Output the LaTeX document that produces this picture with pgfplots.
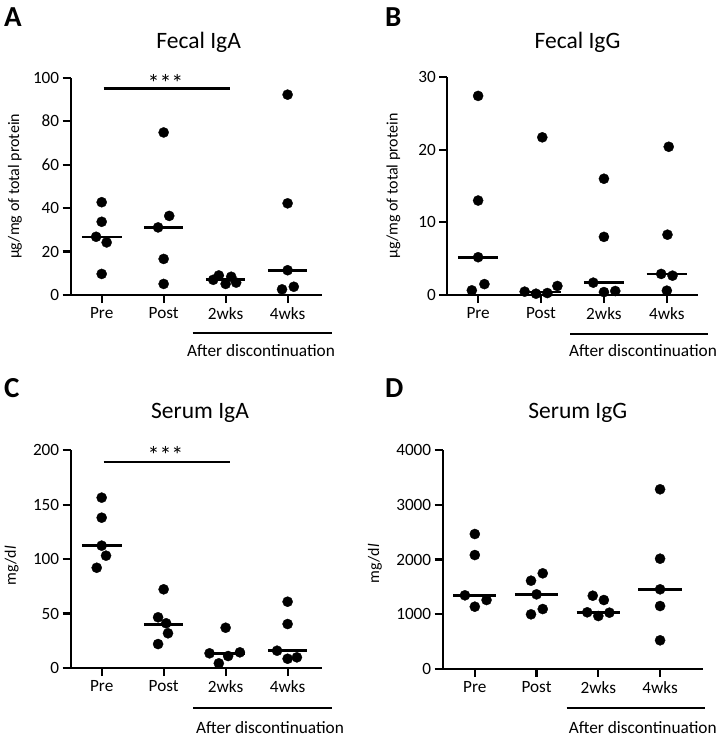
\documentclass[border=0pt]{standalone}
\usepackage{fontspec}
\setmainfont{Carlito}
\usepackage{pgfplots}
\pgfplotsset{compat=1.18}
\pgfplotsset{
 panel/.style={
  scale only axis,
  axis x line=bottom, axis y line=left,
  axis line style={-, line width=2.2pt},
  every tick/.style={black, line width=2.2pt},
  tick align=outside,
  major tick length=8pt,
  xtick={0,1,2,3},
  xticklabels={Pre,Post,2wks,4wks},
  x tick label style={font=\fontsize{17.2}{19}\selectfont, yshift=-1pt},
  y tick label style={font=\fontsize{17.2}{19}\selectfont},
  /pgf/number format/assume math mode=true,
  /pgf/number format/1000 sep={},
  every axis y label/.style={rotate=90, anchor=center, font=\fontsize{16}{18}\selectfont},
  clip=false,
  ymin=0,
 },
 dots/.style={only marks, mark=*, mark size=5.1pt, black, mark options={line width=0.3pt}},
 med/.style={black, line width=2.6pt, no marks},
}
\begin{document}
\begin{tikzpicture}
\path[use as bounding box] (0,0) rectangle (720pt,-739pt);
\tikzset{lbl/.style={font=\fontsize{29}{32}\selectfont\bfseries, anchor=base west, inner sep=0pt},
 ttl/.style={font=\fontsize{23.5}{26}\selectfont, anchor=center},
 adt/.style={font=\fontsize{17.3}{19}\selectfont, anchor=base, inner sep=0pt},
 stars/.style={font=\fontsize{24}{26}\selectfont, anchor=center}}

% ---------- A ----------
\begin{axis}[panel, at={(70.7pt,-295pt)}, anchor=south west,
  width=251pt, height=217.3pt, xmin=-0.5, xmax=3.55, ymax=100,
  ytick={0,20,40,60,80,100},
  ylabel={µg/mg of total protein},
  y label style={at={(axis description cs:-0.222,0.5)}}]
\addplot[dots] coordinates {(0,42.7) (0,33.7) (-0.09,26.8) (0.08,24.2) (0,9.7)
 (1,74.8) (1.09,36.4) (0.91,31.1) (1,16.6) (1,5.1)
 (1.89,9.0) (2.09,8.4) (1.8,7.0) (2,5.1) (2.17,5.7)
 (3,92.2) (3,42.2) (3,11.4) (2.91,2.6) (3.1,3.8)};
\addplot[med] coordinates {(-0.32,26.7) (0.32,26.7)};
\addplot[med] coordinates {(0.68,31.1) (1.32,31.1)};
\addplot[med] coordinates {(1.68,7.2) (2.32,7.2)};
\addplot[med] coordinates {(2.68,11.2) (3.32,11.2)};
\addplot[black, line width=2.2pt, no marks] coordinates {(0.03,95) (2.07,95)};
\node[stars] at (axis cs:1.03,97.6) {***};
\end{axis}
\node[lbl] at (4pt,-26pt) {A};
\node[ttl] at (198.7pt,-42.3pt) {Fecal IgA};
\draw[line width=2pt] (192.7pt,-333.3pt) -- (332.3pt,-333.3pt);
\node[adt] at (261pt,-356.5pt) {After discontinuation};

% ---------- B ----------
\begin{axis}[panel, at={(447.3pt,-295pt)}, anchor=south west,
  width=251pt, height=218pt, xmin=-0.49, xmax=3.5, ymax=30,
  ytick={0,10,20,30},
  ylabel={µg/mg of total protein},
  y label style={at={(axis description cs:-0.215,0.5)}}]
\addplot[dots] coordinates {(0,27.4) (0,13.0) (0,5.2) (0.1,1.5) (-0.1,0.64)
 (1.02,21.7) (0.74,0.46) (0.92,0.18) (1.1,0.27) (1.26,1.24)
 (2,16.0) (2,8.0) (1.83,1.7) (2,0.4) (2.18,0.55)
 (3.03,20.4) (3.01,8.3) (2.91,2.9) (3.09,2.66) (3,0.6)};
\addplot[med] coordinates {(-0.32,5.2) (0.32,5.2)};
\addplot[med] coordinates {(0.68,0.4) (1.32,0.4)};
\addplot[med] coordinates {(1.68,1.7) (2.32,1.7)};
\addplot[med] coordinates {(2.68,2.9) (3.32,2.9)};
\end{axis}
\node[lbl] at (385pt,-26pt) {B};
\node[ttl] at (577.5pt,-42pt) {Fecal IgG};
\draw[line width=2pt] (570pt,-334.3pt) -- (708.3pt,-334.3pt);
\node[adt] at (643pt,-356.5pt) {After discontinuation};

% ---------- C ----------
\begin{axis}[panel, at={(70.7pt,-668pt)}, anchor=south west,
  width=251pt, height=217.7pt, xmin=-0.5, xmax=3.55, ymax=200,
  ytick={0,50,100,150,200},
  ylabel={mg/d\textit{l}},
  y label style={at={(axis description cs:-0.235,0.47)}}]
\addplot[dots] coordinates {(0,156.5) (0,138.1) (0,112.4) (0.07,103.2) (-0.08,92.1)
 (1,72.3) (0.91,46.6) (1.04,41.1) (1.07,31.9) (0.91,22.0)
 (2,37.0) (1.74,13.5) (2.04,11.0) (2.23,14.4) (1.89,4.3)
 (3,60.9) (3,40.4) (2.83,15.9) (3,8.5) (3.15,9.8)};
\addplot[med] coordinates {(-0.32,112.4) (0.32,112.4)};
\addplot[med] coordinates {(0.68,40.1) (1.32,40.1)};
\addplot[med] coordinates {(1.68,13.5) (2.32,13.5)};
\addplot[med] coordinates {(2.68,15.9) (3.32,15.9)};
\addplot[black, line width=2.2pt, no marks] coordinates {(0.03,189.5) (2.07,189.5)};
\node[stars] at (axis cs:1.03,196) {***};
\end{axis}
\node[lbl] at (4pt,-397pt) {C};
\node[ttl] at (200pt,-413pt) {Serum IgA};
\draw[line width=2pt] (193.3pt,-708.3pt) -- (331.7pt,-708.3pt);
\node[adt] at (270pt,-733pt) {After discontinuation};

% ---------- D ----------
\begin{axis}[panel, at={(442.7pt,-668.7pt)}, anchor=south west,
  width=260.6pt, height=218.4pt, xmin=-0.52, xmax=3.70, ymax=4000,
  ytick={0,1000,2000,3000,4000},
  ylabel={mg/d\textit{l}},
  y label style={at={(axis description cs:-0.26,0.48)}}]
\addplot[dots] coordinates {(0,2467) (0,2082) (-0.16,1344) (0,1136) (0.19,1258)
 (0.91,1612) (1.1,1747) (1,1362) (1.1,1093) (0.91,996)
 (1.91,1337) (2.09,1258) (1.82,1033) (2,965) (2.18,1026)
 (3,3286) (3,2015) (3,1454) (3,1148) (3,520)};
\addplot[med] coordinates {(-0.35,1345) (0.35,1345)};
\addplot[med] coordinates {(0.65,1362) (1.35,1362)};
\addplot[med] coordinates {(1.65,1030) (2.35,1030)};
\addplot[med] coordinates {(2.65,1454) (3.35,1454)};
\end{axis}
\node[lbl] at (385pt,-397pt) {D};
\node[ttl] at (577.8pt,-413.3pt) {Serum IgG};
\draw[line width=2pt] (566.7pt,-708.3pt) -- (705pt,-708.3pt);
\node[adt] at (642.7pt,-733pt) {After discontinuation};
\end{tikzpicture}
\end{document}
